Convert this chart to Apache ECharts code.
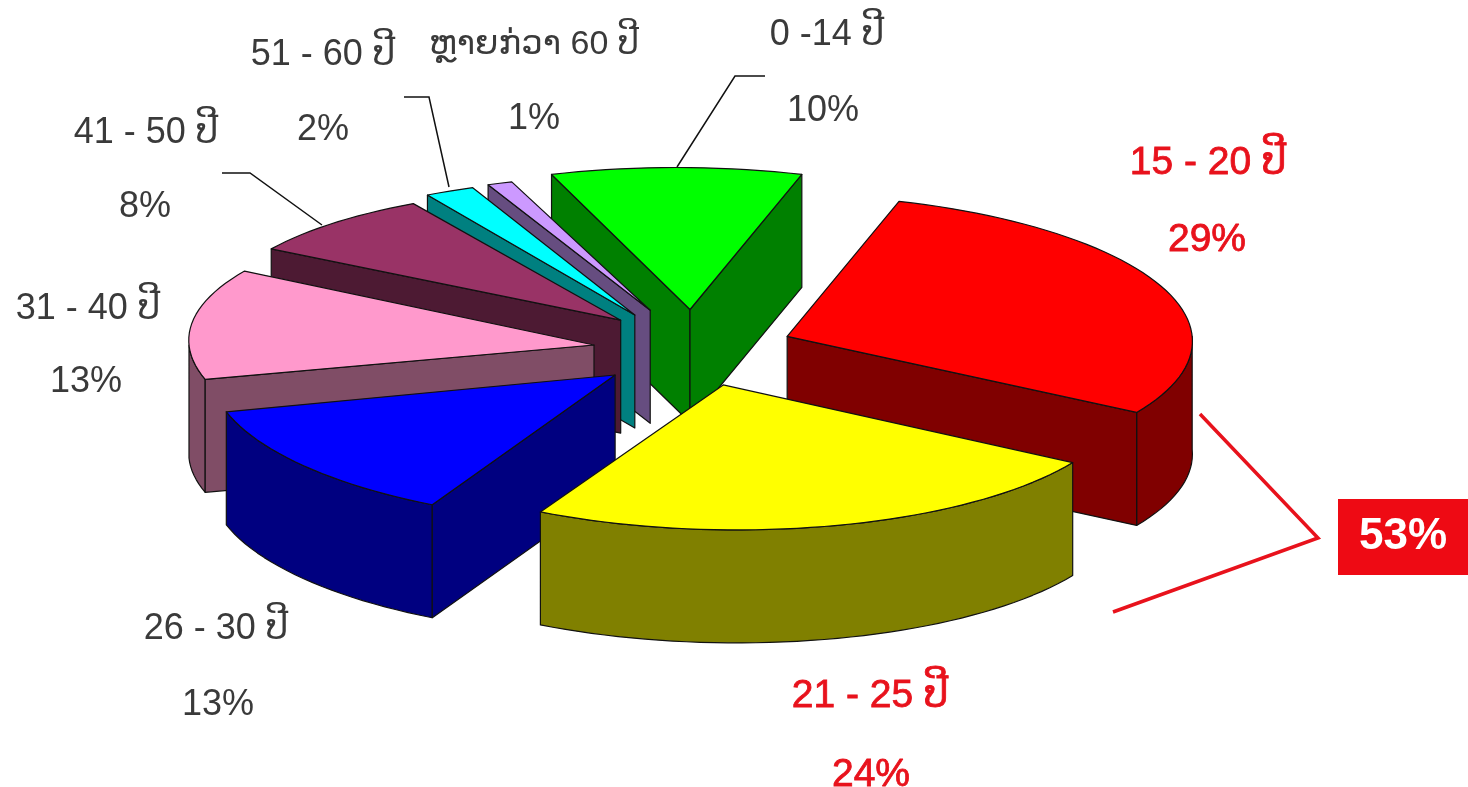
<!DOCTYPE html>
<html>
<head>
<meta charset="utf-8">
<style>html,body{margin:0;padding:0;background:#fff}#chart{width:1468px;height:787px}</style>
<script src="https://cdn.jsdelivr.net/npm/echarts@6/dist/echarts.min.js"></script>
</head>
<body>
<div id="chart"></div>
<script>
// chart values, clockwise from the first slice
const categories = ['0 -14 ປີ', '15 - 20 ປີ', '21 - 25 ປີ', '26 - 30 ປີ', '31 - 40 ປີ', '41 - 50 ປີ', '51 - 60 ປີ', 'ຫຼາຍກ່ວາ 60 ປີ'];
const shares = [10, 29, 24, 13, 13, 8, 2, 1];
const highlighted = [1, 2];
const summaryShare = highlighted.reduce((sum, i) => sum + shares[i], 0);

// slice look
const topColors = ['#00ff00', '#ff0000', '#ffff00', '#0000ff', '#ff99cc', '#993366', '#00ffff', '#cc99ff'];
const sideColors = ['#008000', '#800000', '#808000', '#000080', '#804d66', '#4d1a33', '#008080', '#664d80'];
const explodeX = [0.25, 0.255, 0.33, 0.234, 0.24, 0.25, 0.32, 0.29];
const explodeY = [0.25, 0.18, 0.29, 0.345, 0, 0.24, 0.233, 0.26];
const flatten = [142, 142, 145, 148, 138, 133, 137, 135];

// label layout: [x, y] of the name and of the percentage
const nameSpots = [[827, 35], [1208, 163], [870, 696], [216, 629], [88, 309], [146, 133], [323, 55], [534, 45]];
const shareSpots = [[823, 111], [1207, 240], [871, 775], [218, 705], [86, 382], [145, 207], [323, 130], [534, 119]];
const nameSizes = [36, 39, 39, 36, 36, 36, 36, 34];

const center = [690, 345];
const radiusX = 405;
const shearX = 14;
const depth = 113;
const startAngle = -18;
const total = shares.reduce((a, b) => a + b, 0);

// angle in degrees clockwise from 12 o'clock
function toPlane(deg, rx, ry) {
  const rad = deg * Math.PI / 180;
  const y = -Math.cos(rad);
  return [Math.sin(rad) * rx + y * shearX * (rx / radiusX), y * ry];
}

const slices = [];
let cursor = startAngle;
shares.forEach((v, i) => {
  const sweep = v / total * 360;
  slices.push({ index: i, start: cursor, end: cursor + sweep, mid: cursor + sweep / 2 });
  cursor += sweep;
});

function down(p) {
  return [p[0], p[1] + depth];
}

function poly(points, fill) {
  return {
    type: 'polygon',
    shape: { points: points },
    style: { fill: fill, stroke: '#111', lineWidth: 1.2, lineJoin: 'round' }
  };
}

function renderSlice(params, api) {
  const s = slices[api.value(0)];
  const ry = flatten[s.index];
  const midRad = s.mid * Math.PI / 180;
  const apex = [
    center[0] + Math.sin(midRad) * explodeX[s.index] * radiusX,
    center[1] - Math.cos(midRad) * explodeY[s.index] * 142
  ];
  const at = (deg) => {
    const p = toPlane(deg, radiusX, ry);
    return [apex[0] + p[0], apex[1] + p[1]];
  };
  const arc = (from, to) => {
    const pts = [];
    const n = Math.max(2, Math.ceil((to - from) / 2));
    for (let k = 0; k <= n; k++) pts.push(at(from + (to - from) * k / n));
    return pts;
  };
  const children = [];
  const side = sideColors[s.index];
  // outer wall, only the part facing the viewer
  const wallFrom = Math.max(s.start, 90);
  const wallTo = Math.min(s.end, 270);
  if (wallTo > wallFrom) {
    const edge = arc(wallFrom, wallTo);
    children.push(poly(edge.concat(edge.map(down).reverse()), side));
  }
  // cut faces, only the visible ones
  if (Math.sin(s.start * Math.PI / 180) < 0) {
    const a = at(s.start);
    children.push(poly([apex, a, down(a), down(apex)], side));
  }
  if (Math.sin(s.end * Math.PI / 180) > 0) {
    const a = at(s.end);
    children.push(poly([apex, a, down(a), down(apex)], side));
  }
  children.push(poly([apex].concat(arc(s.start, s.end)), topColors[s.index]));
  return { type: 'group', children: children };
}

// painter's order: far slices first
const drawOrder = slices.slice().sort((a, b) => -Math.cos(a.mid * Math.PI / 180) + Math.cos(b.mid * Math.PI / 180)).map(s => s.index);

function labelText(x, y, text, i, size) {
  const hot = highlighted.includes(i);
  return {
    type: 'text',
    x: x,
    y: y,
    style: {
      text: text,
      fill: hot ? '#e8121c' : '#3a3a3a',
      stroke: hot ? '#e8121c' : null,
      lineWidth: hot ? 0.8 : 0,
      font: size + 'px "Liberation Sans", "DejaVu Sans", sans-serif',
      align: 'center',
      verticalAlign: 'middle'
    }
  };
}

function leader(points, color, width) {
  return {
    type: 'polyline',
    shape: { points: points },
    style: { stroke: color, lineWidth: width, fill: null }
  };
}

const graphics = [];
categories.forEach((name, i) => {
  graphics.push(labelText(nameSpots[i][0], nameSpots[i][1], name, i, nameSizes[i]));
  graphics.push(labelText(shareSpots[i][0], shareSpots[i][1], shares[i] + '%', i, highlighted.includes(i) ? 39 : 36));
});
graphics.push(leader([[765, 76], [735, 76], [677, 167]], '#111', 1.5));
graphics.push(leader([[404, 97], [429, 97], [449, 187]], '#111', 1.5));
graphics.push(leader([[222, 173], [250, 173], [322, 225]], '#111', 1.5));
graphics.push(leader([[1200, 414], [1318, 538], [1113, 612]], '#e8121c', 3.5));
graphics.push({
  type: 'rect',
  shape: { x: 1338, y: 499, width: 130, height: 76 },
  style: { fill: '#ee0a14' }
});
graphics.push({
  type: 'text',
  x: 1403,
  y: 537,
  style: {
    text: summaryShare + '%',
    fill: '#fff',
    font: 'bold 44px "Liberation Sans", sans-serif',
    align: 'center',
    verticalAlign: 'middle'
  }
});

const chart = echarts.init(document.getElementById('chart'), null, { renderer: 'canvas' });
chart.setOption({
  backgroundColor: '#ffffff',
  animation: false,
  series: [{
    type: 'custom',
    coordinateSystem: 'none',
    silent: true,
    data: drawOrder.map(i => [i]),
    renderItem: renderSlice
  }],
  graphic: graphics
});
</script>
</body>
</html>
